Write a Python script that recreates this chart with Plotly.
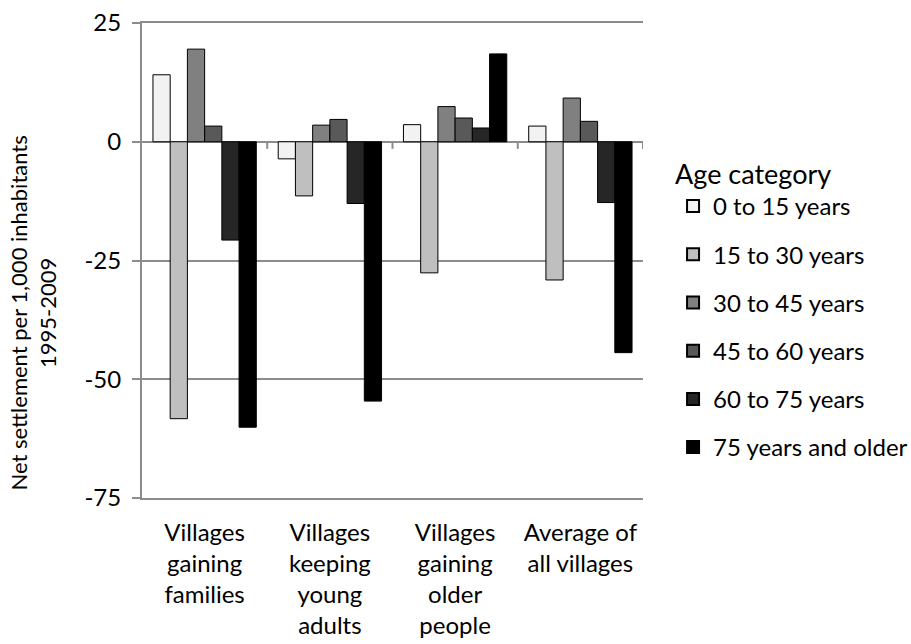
import plotly.graph_objects as go

categories = ["Villages<br>gaining<br>families", "Villages<br>keeping<br>young<br>adults",
              "Villages<br>gaining<br>older<br>people", "Average of<br>all villages"]
age_groups = ["0 to 15 years", "15 to 30 years", "30 to 45 years",
              "45 to 60 years", "60 to 75 years", "75 years and older"]
values = {
    "0 to 15 years":      [14.1, -3.6, 3.6, 3.3],
    "15 to 30 years":     [-58.3, -11.4, -27.6, -29.1],
    "30 to 45 years":     [19.5, 3.5, 7.4, 9.2],
    "45 to 60 years":     [3.3, 4.7, 5.0, 4.3],
    "60 to 75 years":     [-20.7, -13.0, 2.9, -12.8],
    "75 years and older": [-60.1, -54.6, 18.5, -44.4],
}
colors = ["#f2f2f2", "#bfbfbf", "#808080", "#595959", "#262626", "#000000"]
y_ticks = [25, 0, -25, -50, -75]
y_title = "Net settlement per 1,000 inhabitants<br>1995-2009"

FONT = "Lato"
GRID = "#8c8c8c"

fig = go.Figure()
for i, g in enumerate(age_groups):
    fig.add_trace(go.Bar(
        x=list(range(len(categories))), y=values[g], name=g,
        legendgroup=g,
        marker=dict(color=colors[i], line=dict(color="#000000", width=1)),
    ))

# tick marks on the zero line at category boundaries
for k in range(len(categories)):
    fig.add_shape(type="line", xref="x", yref="y", x0=k + 0.5, x1=k + 0.5,
                  y0=0, y1=-1.5, line=dict(color=GRID, width=2))

# y axis title (placed like the original, centred on the chart height)
fig.add_annotation(text=y_title, textangle=-90, xref="paper", yref="paper",
                   x=-0.218, y=0.39, xanchor="center", yanchor="middle",
                   showarrow=False, font=dict(size=22))

fig.update_layout(
    width=911, height=644,
    margin=dict(l=142, r=268, t=23, b=146, autoexpand=False),
    paper_bgcolor="white", plot_bgcolor="white",
    barmode="group", bargap=0.175, bargroupgap=0,
    font=dict(family=FONT, size=24, color="#000000"),
    showlegend=True,
    legend=dict(
        x=1.06, y=0.735, xanchor="left", yanchor="top",
        title=dict(text="Age category", font=dict(size=27)),
        font=dict(size=24), traceorder="grouped", tracegroupgap=14,
        bgcolor="rgba(0,0,0,0)", itemsizing="constant",
    ),
)
fig.update_xaxes(
    range=[-0.5, len(categories) - 0.5], automargin=False,
    tickmode="array", tickvals=list(range(len(categories))), ticktext=categories,
    showgrid=False, zeroline=False, showline=True, mirror=True,
    linecolor=GRID, linewidth=2,
    ticks="", ticklabelstandoff=12,
)
fig.update_yaxes(
    range=[-75, 25], tickmode="array", tickvals=y_ticks, automargin=False,
    ticktext=[str(v) for v in y_ticks],
    showgrid=True, gridcolor=GRID, gridwidth=2,
    zeroline=True, zerolinecolor=GRID, zerolinewidth=2,
    showline=True, linecolor=GRID, linewidth=2,
    ticks="outside", ticklen=8, tickcolor=GRID, tickwidth=2,
    ticklabelstandoff=6,
)

fig.write_html(
    "out.html",
    config={"displayModeBar": False},
    post_script="document.body.style.margin='0';document.body.style.overflow='hidden';",
)
